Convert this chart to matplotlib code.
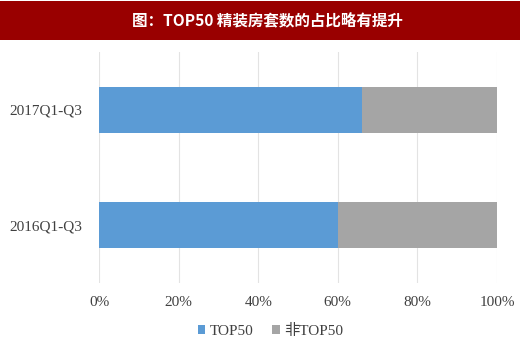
import matplotlib.pyplot as plt
from matplotlib.patches import Rectangle
from matplotlib.ticker import PercentFormatter

periods = ['2016Q1-Q3', '2017Q1-Q3']
top50 = [60, 66]
non_top50 = [40, 34]
x_ticks = [0, 20, 40, 60, 80, 100]

title = '图：TOP50 精装房套数的占比略有提升'
serif = ['Liberation Serif', 'Noto Sans CJK SC']

fig = plt.figure(figsize=(5.2, 3.46), dpi=100)
fig.patch.set_facecolor('white')

# title banner
fig.patches.append(Rectangle((0, 1 - 40 / 346), 1, 39 / 346, transform=fig.transFigure,
                             facecolor='#990000', edgecolor='none', zorder=0))
fig.text(0.515, 1 - 21 / 346, title, color='white', fontsize=11.2, fontweight='bold',
         ha='center', va='center', family=['Noto Sans CJK SC', 'DejaVu Sans'])

ax = fig.add_axes([99 / 520, 1 - 283 / 346, 398 / 520, 231 / 346])
y = range(len(periods))
ax.barh(y, top50, height=0.4, color='#5B9BD5', label='TOP50', zorder=3)
ax.barh(y, non_top50, left=top50, height=0.4, color='#A5A5A5', label='非TOP50', zorder=3)

ax.set_xlim(0, 100)
ax.set_ylim(-0.5, 1.5)
ax.set_xticks(x_ticks)
ax.xaxis.set_major_formatter(PercentFormatter(decimals=0))
ax.set_yticks(list(y))
ax.set_yticklabels(periods)
ax.tick_params(axis='both', length=0, labelsize=11, colors='#404040')
ax.tick_params(axis='x', pad=9)
ax.tick_params(axis='y', pad=12)
for lbl in ax.get_xticklabels() + ax.get_yticklabels():
    lbl.set_family(serif)

ax.grid(axis='x', color='#E3E3E3', linewidth=0.8, zorder=0)
for s in ax.spines.values():
    s.set_visible(False)

leg = fig.legend(loc='center', bbox_to_anchor=(0.52, 1 - 331 / 346), ncol=2, frameon=False,
                 handlelength=0.5, handleheight=0.5, handletextpad=0.3, columnspacing=1.2,
                 prop={'family': serif, 'size': 11})
for t in leg.get_texts():
    t.set_color('#404040')

fig.savefig('out.png', dpi=100)
